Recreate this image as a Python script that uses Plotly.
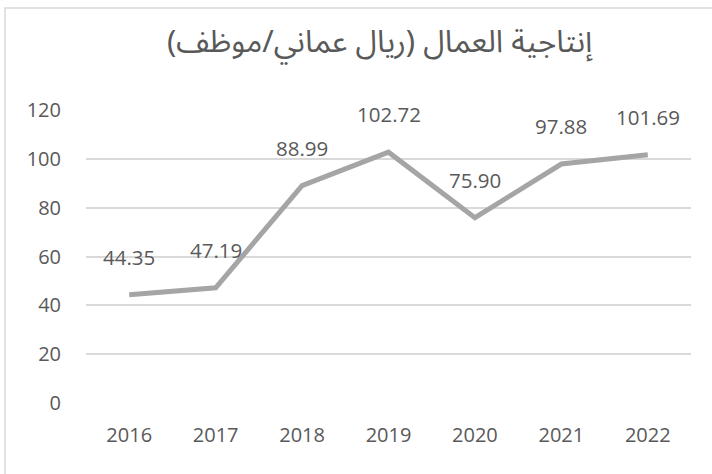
import plotly.graph_objects as go

# Labour productivity, Omani rial per employee
years = ["2016", "2017", "2018", "2019", "2020", "2021", "2022"]
productivity = [44.35, 47.19, 88.99, 102.72, 75.90, 97.88, 101.69]
y_ticks = [0, 20, 40, 60, 80, 100, 120]

title_text = "إنتاجية العمال (ريال عماني/موظف)"

TEXT = "#595959"
LINE = "#A5A5A5"
GRID = "#D9D9D9"
FONT = "Open Sans, Noto Sans, sans-serif"

W, H = 712, 474
M_L, M_R, M_T, M_B = 86, 21, 110, 71
plot_w = W - M_L - M_R
plot_h = H - M_T - M_B

fig = go.Figure()
fig.add_trace(go.Scatter(
    x=years, y=productivity, mode="lines",
    line=dict(color=LINE, width=5),
    hoverinfo="skip", showlegend=False,
))

# value labels above each point (category index positions)
for i, v in enumerate(productivity):
    fig.add_annotation(
        x=i, y=v, text=f"{v:.2f}", showarrow=False,
        yshift=38, font=dict(family=FONT, size=20.5, color=TEXT),
    )

# title
fig.add_annotation(
    xref="paper", yref="paper",
    x=(380 - M_L) / plot_w, y=(H - M_B - 42) / plot_h,
    xanchor="center", yanchor="middle",
    text=title_text, showarrow=False,
    font=dict(family="Noto Sans Arabic, DejaVu Sans, sans-serif", size=31, color=TEXT),
)

# chart frame
fig.add_shape(
    type="rect", xref="paper", yref="paper",
    x0=(5 - M_L) / plot_w, x1=(W + 10 - M_L) / plot_w,
    y0=(H - M_B - (H + 10)) / plot_h, y1=(H - M_B - 8) / plot_h,
    line=dict(color=GRID, width=1.5), fillcolor="rgba(0,0,0,0)", layer="below",
)

fig.update_layout(
    width=W, height=H,
    margin=dict(l=M_L, r=M_R, t=M_T, b=M_B, pad=0),
    paper_bgcolor="white", plot_bgcolor="white",
    font=dict(family=FONT, color=TEXT),
)
fig.update_xaxes(
    type="category", categoryorder="array", categoryarray=years,
    range=[-0.5, len(years) - 0.5],
    showgrid=False, zeroline=False, showline=False,
    ticks="", tickfont=dict(size=20, color=TEXT), ticklabelstandoff=18,
)
fig.update_yaxes(
    range=[0, 120], tickvals=y_ticks, showgrid=True, gridcolor=GRID,
    gridwidth=1.5, zeroline=False, showline=False, ticks="",
    tickfont=dict(size=20, color=TEXT), ticklabelstandoff=24,
)

fig.write_html("out.html")
